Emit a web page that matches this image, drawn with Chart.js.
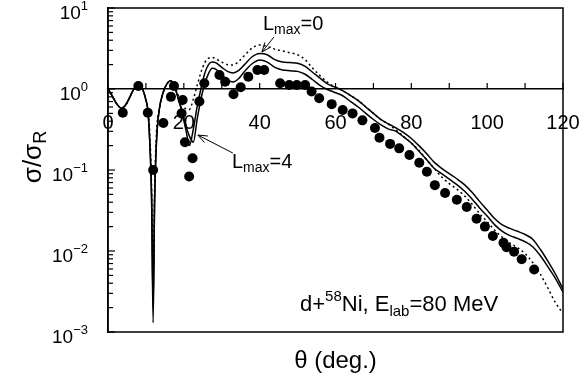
<!DOCTYPE html>
<html><head><meta charset="utf-8">
<script src="https://cdn.jsdelivr.net/npm/chart.js@4"></script>
<style>html,body{margin:0;padding:0;background:#fff}#wrap{width:581px;height:375px}</style>
</head><body><div id="wrap"><canvas id="c" width="581" height="375"></canvas></div>
<script>
// ---- data (theta in degrees, sigma/sigma_R) ----
const theta = [0,1,2,3,3.5,4.5,5.5,6.5,7.5,8.2,9,10,10.5,11,11.5,11.9,12.3,12.8,13.5,14.5,15.5,16.5,17.5,18.5,19.5,20.5,21.5,22.5,23.5,24.5,25.5,26.5,27.5,28.5,30,31.5,33,34.5,36,38,40,42,44,46,48,50,52,54,56,58,60,62,64,66,68,70,72,74,76,78,80,82,84,86,88,90,92,94,96,98,100,102,104,106,108,110,112,114,116,118,120];
const sigmaLmax0 = [1.0,0.84,0.69,0.6,0.58,0.62,0.75,0.94,1.09,1.12,1.03,0.73,0.55,0.23,0.042,0.0013,0.042,0.23,0.55,0.89,1.15,1.26,1.09,0.77,0.52,0.32,0.2,0.32,0.6,1.0,1.55,2.0,2.15,2.1,1.85,1.65,1.58,1.7,2.0,2.5,2.75,2.65,2.3,2.15,2.12,2.08,1.9,1.6,1.35,1.15,1.05,0.95,0.83,0.72,0.6,0.5,0.42,0.37,0.33,0.29,0.245,0.2,0.16,0.125,0.105,0.09,0.078,0.066,0.053,0.041,0.032,0.025,0.021,0.019,0.0175,0.016,0.014,0.0105,0.0075,0.0052,0.0034];
const sigmaLmax4 = [1.0,0.84,0.69,0.6,0.58,0.62,0.75,0.94,1.09,1.12,1.03,0.73,0.55,0.23,0.045,0.002,0.045,0.23,0.55,0.89,1.15,1.26,1.09,0.77,0.55,0.36,0.26,0.22,0.42,0.75,1.15,1.55,1.8,1.75,1.5,1.3,1.22,1.35,1.65,2.05,2.28,2.15,1.85,1.72,1.68,1.65,1.52,1.3,1.1,0.98,0.9,0.82,0.7,0.6,0.5,0.42,0.36,0.32,0.3,0.255,0.215,0.17,0.135,0.105,0.09,0.077,0.066,0.055,0.044,0.034,0.027,0.021,0.0175,0.0155,0.0143,0.013,0.0113,0.0088,0.0064,0.0046,0.0031];
const sigmaDotted = [1.0,0.84,0.69,0.6,0.58,0.62,0.75,0.94,1.09,1.12,1.03,0.73,0.55,0.3,0.06,0.005,0.06,0.3,0.55,0.89,1.15,1.26,1.1,0.85,0.66,0.57,0.56,0.75,1.1,1.6,2.1,2.4,2.45,2.35,2.15,2.0,1.98,2.2,2.6,3.2,3.5,3.35,3.1,2.95,2.8,2.65,2.3,1.8,1.45,1.2,1.05,0.95,0.83,0.72,0.6,0.5,0.42,0.365,0.31,0.26,0.215,0.175,0.135,0.105,0.082,0.068,0.058,0.048,0.038,0.029,0.023,0.018,0.0148,0.0125,0.011,0.0093,0.0072,0.0052,0.0035,0.0023,0.0017];
const expTheta = [3.9,8.0,10.5,11.9,14.6,16.6,17.4,19.4,19.7,20.3,21.4,22.3,24.1,25.4,29.4,30.9,33.1,35.0,37.0,39.4,41.2,45.4,47.8,49.8,52.0,53.7,55.7,59.0,61.9,64.5,67.1,70.4,71.6,74.4,76.8,79.5,82.1,84.1,86.2,88.9,92.0,94.6,97.2,99.4,101.5,104.3,105.1,107.1,109.1,112.4];
const expSigma = [0.51,1.09,0.51,0.10,0.38,0.80,1.09,0.50,0.73,0.22,0.083,0.14,0.70,1.18,1.49,1.23,0.86,1.05,1.42,1.72,1.72,1.18,1.12,1.12,1.12,0.93,0.77,0.65,0.55,0.50,0.41,0.33,0.25,0.21,0.185,0.153,0.123,0.095,0.065,0.052,0.043,0.035,0.025,0.020,0.0153,0.0126,0.0111,0.0098,0.0079,0.0059];
const xTickValues = [0,10,20,30,40,50,60,70,80,90,100,110,120];
const xTickLabels = ['0','','20','','40','','60','','80','','100','','120'];
const yDecades = [1,0,-1,-2,-3];
const yMinorSignificands = [2,3,4,5,6,7,8,9];
const annotationText = {reaction:['d+','58','Ni, E','lab','=80 MeV'], l0:['L','max','=0'], l4:['L','max','=4']};
const arrowTipL0 = {x:40.6, y:2.86};
const arrowTipL4 = {x:23.7, y:0.27};

const FONT = '"Liberation Sans", Arial, Helvetica, sans-serif';
const toXY = (xs, ys) => xs.map((x, i) => ({x, y: ys[i]}));

function drawParts(ctx, x, y, parts, align) {
  let w = 0;
  parts.forEach(p => { ctx.font = p.size + 'px ' + FONT; w += ctx.measureText(p.t).width; });
  let cx = align === 'right' ? x - w : (align === 'center' ? x - w / 2 : x);
  ctx.textAlign = 'left'; ctx.textBaseline = 'alphabetic';
  parts.forEach(p => { ctx.font = p.size + 'px ' + FONT; ctx.fillText(p.t, cx, y + (p.dy || 0)); cx += ctx.measureText(p.t).width; });
  return w;
}
function arrow(ctx, x1, y1, x2, y2) {
  ctx.beginPath(); ctx.moveTo(x1, y1); ctx.lineTo(x2, y2); ctx.stroke();
  const a = Math.atan2(y2 - y1, x2 - x1), L = 10, s = 0.38;
  ctx.beginPath();
  ctx.moveTo(x2 - L * Math.cos(a - s), y2 - L * Math.sin(a - s));
  ctx.lineTo(x2, y2);
  ctx.lineTo(x2 - L * Math.cos(a + s), y2 - L * Math.sin(a + s));
  ctx.stroke();
}

const decor = {
  id: 'decor',
  afterDraw(chart) {
    const {ctx, chartArea: ca, scales: {x, y}} = chart;
    ctx.save();
    ctx.strokeStyle = '#000'; ctx.fillStyle = '#000'; ctx.lineWidth = 1.5;
    ctx.strokeRect(ca.left, ca.top, ca.right - ca.left, ca.bottom - ca.top);
    ctx.lineWidth = 1.2;
    yDecades.forEach(e => {
      const yp = y.getPixelForValue(Math.pow(10, e));
      ctx.beginPath(); ctx.moveTo(ca.left, yp); ctx.lineTo(ca.left + 7, yp); ctx.stroke();
      if (e > -3) {
        yMinorSignificands.forEach(s => {
          const p = y.getPixelForValue(s * Math.pow(10, e - 1));
          ctx.beginPath(); ctx.moveTo(ca.left, p); ctx.lineTo(ca.left + 5, p); ctx.stroke();
        });
      }
    });
    const y1 = y.getPixelForValue(1);
    xTickValues.forEach(v => {
      const p = x.getPixelForValue(v);
      ctx.beginPath(); ctx.moveTo(p, y1); ctx.lineTo(p, y1 - 6); ctx.stroke();
    });
    yDecades.forEach(e => {
      const yp = y.getPixelForValue(Math.pow(10, e));
      drawParts(ctx, 88, yp + 11, [{t:'10', size:19}, {t:(e < 0 ? '\u2212' : '') + Math.abs(e), size:13, dy:-9}], 'right');
    });
    ctx.save();
    ctx.translate(41, 157); ctx.rotate(-Math.PI / 2);
    drawParts(ctx, 0, 0, [{t:'\u03c3/\u03c3', size:26}, {t:'R', size:18, dy:5}], 'center');
    ctx.restore();
    drawParts(ctx, (ca.left + ca.right) / 2, 368, [{t:'\u03b8 (deg.)', size:24}], 'center');
    const r = annotationText.reaction;
    drawParts(ctx, 300, 311, [{t:r[0], size:22}, {t:r[1], size:15, dy:-10}, {t:r[2], size:22}, {t:r[3], size:15, dy:5}, {t:r[4], size:22}], 'left');
    const l0 = annotationText.l0, l4 = annotationText.l4;
    drawParts(ctx, 263, 30, [{t:l0[0], size:20}, {t:l0[1], size:14, dy:4}, {t:l0[2], size:20}], 'left');
    drawParts(ctx, 232, 168, [{t:l4[0], size:20}, {t:l4[1], size:14, dy:4}, {t:l4[2], size:20}], 'left');
    ctx.lineWidth = 1;
    const t0x = x.getPixelForValue(arrowTipL0.x), t0y = y.getPixelForValue(arrowTipL0.y);
    arrow(ctx, t0x + 12, t0y - 15, t0x, t0y);
    const t4x = x.getPixelForValue(arrowTipL4.x), t4y = y.getPixelForValue(arrowTipL4.y);
    arrow(ctx, t4x + 35, t4y + 18, t4x, t4y);
    ctx.restore();
  }
};

const lineDs = (label, data, dash) => ({
  type: 'line', label, data, borderColor: '#000', borderWidth: 1.5, borderDash: dash,
  pointRadius: 0, fill: false, cubicInterpolationMode: 'monotone'
});

new Chart(document.getElementById('c'), {
  data: {
    datasets: [
      lineDs('Lmax=0', toXY(theta, sigmaLmax0), []),
      lineDs('Lmax=4', toXY(theta, sigmaLmax4), []),
      lineDs('dotted', toXY(theta, sigmaDotted), [2, 3]),
      {type: 'scatter', label: 'exp', data: toXY(expTheta, expSigma), pointRadius: 5, pointBackgroundColor: '#000', pointBorderWidth: 0, showLine: false}
    ]
  },
  options: {
    responsive: false, animation: false, devicePixelRatio: 1,
    layout: {padding: {left: 108, right: 18, top: 8, bottom: 43}},
    plugins: {legend: {display: false}, tooltip: {enabled: false}, title: {display: false}},
    scales: {
      x: {
        type: 'linear', min: 0, max: 120, position: {y: 1},
        afterBuildTicks: s => { s.ticks = xTickValues.map(v => ({value: v})); },
        afterFit: s => { s.paddingLeft = 0; s.paddingRight = 0; },
        ticks: {autoSkip: false, maxRotation: 0, color: '#000', padding: 22, font: {size: 20, family: FONT},
          callback: (v, i) => xTickLabels[i]},
        grid: {display: true, drawOnChartArea: false, drawTicks: false},
        border: {display: true, color: '#000', width: 1.5}
      },
      y: {
        type: 'logarithmic', min: 0.001, max: 10, position: 'left',
        ticks: {display: false},
        grid: {display: true, drawOnChartArea: false, drawTicks: false},
        border: {display: true, color: '#000', width: 1.5}
      }
    }
  },
  plugins: [decor]
});
</script></body></html>
